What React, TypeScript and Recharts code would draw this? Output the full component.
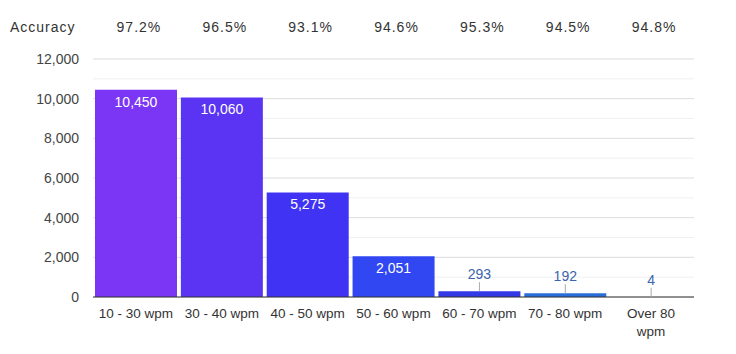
import { BarChart, Bar, XAxis, YAxis, CartesianGrid, Cell, LabelList } from "recharts";

const speeds = ["10 - 30 wpm", "30 - 40 wpm", "40 - 50 wpm", "50 - 60 wpm", "60 - 70 wpm", "70 - 80 wpm", "Over 80 wpm"];
const counts = [10450, 10060, 5275, 2051, 293, 192, 4];
const accuracy = [97.2, 96.5, 93.1, 94.6, 95.3, 94.5, 94.8];
const barColors = ["#7a35f5", "#5a33f3", "#4133f3", "#3047f2", "#3439e6", "#2a6fd9", "#2563c9"];
const yTicks = [0, 2000, 4000, 6000, 8000, 10000, 12000];
const minorTicks = [1000, 3000, 5000, 7000, 9000, 11000];

const FONT = "'Liberation Sans', Arial, sans-serif";

const chartData = speeds.map((name, i) => ({ name, count: counts[i], acc: accuracy[i] }));

let ctx: CanvasRenderingContext2D | null = null;
function measure(s: string, size: number) {
  if (!ctx) ctx = document.createElement("canvas").getContext("2d");
  if (!ctx) return s.length * 7;
  ctx.font = `${size}px 'Liberation Sans', Arial, sans-serif`;
  return ctx.measureText(s).width;
}

// greedy word wrap to fit the category band
function wrap(s: string, size: number, max: number) {
  const words = s.split(" ");
  const lines: string[] = [];
  let cur = "";
  for (const w of words) {
    const next = cur ? cur + " " + w : w;
    if (cur && measure(next, size) > max) {
      lines.push(cur);
      cur = w;
    } else cur = next;
  }
  if (cur) lines.push(cur);
  return lines;
}

function BottomTick(props: any) {
  const { x, y, payload } = props;
  const lines = wrap(String(payload.value), 13.5, 78);
  return (
    <text x={x} y={y} textAnchor="middle" fontSize={13.5} fill="#333" fontFamily={FONT}>
      {lines.map((l, i) => (
        <tspan key={i} x={x} dy={i === 0 ? 13 : 18}>{l}</tspan>
      ))}
    </text>
  );
}

function TopTick(props: any) {
  const { x, y, index } = props;
  const acc = accuracy[index];
  return (
    <g>
      {index === 0 && (
        <text x={10} y={y} textAnchor="start" fontSize={14} fill="#333" fontFamily={FONT} letterSpacing={1}>
          Accuracy
        </text>
      )}
      <text x={x + 3} y={y} textAnchor="middle" fontSize={14} fill="#333" fontFamily={FONT} letterSpacing={1}>
        {acc.toFixed(1)}%
      </text>
    </g>
  );
}

function BarValue(props: any) {
  const { x, y, width, height, value } = props;
  const cx = x + width / 2;
  const label = Number(value).toLocaleString("en-US");
  if (height > 22) {
    return (
      <text x={cx} y={y + 17} textAnchor="middle" fontSize={14} fill="#fff" fontFamily={FONT}>
        {label}
      </text>
    );
  }
  const ty = y - 17;
  return (
    <g>
      <line x1={cx} x2={cx} y1={ty + 8} y2={y} stroke="#aaa" strokeWidth={1} />
      <text x={cx} y={ty + 5} textAnchor="middle" fontSize={14} fill="#3a64ad" fontFamily={FONT}>
        {label}
      </text>
    </g>
  );
}

export default function App() {
  return (
    <div style={{ position: "absolute", left: 0, top: 0, width: 736, height: 354, background: "#fff" }}>
      <BarChart width={736} height={354} data={chartData} margin={{ top: 19, right: 42, bottom: 0, left: 0 }}
        barCategoryGap={2}>
        <CartesianGrid vertical={false} horizontalValues={minorTicks} stroke="#f0f0f0" />
        <CartesianGrid vertical={false} horizontalValues={yTicks} stroke="#dcdcdc" />
        <XAxis dataKey="name" xAxisId="top" orientation="top" height={40} axisLine={false} tickLine={false}
          tickMargin={21} tick={<TopTick />} interval={0} />
        <XAxis dataKey="name" height={57} axisLine={{ stroke: "#333" }} tickLine={false} tickMargin={2}
          tick={<BottomTick />} interval={0} />
        <YAxis width={93} domain={[0, 12000]} ticks={yTicks} axisLine={false} tickLine={false} tickMargin={8}
          tickFormatter={(v: number) => v.toLocaleString("en-US")}
          tick={{ fontSize: 14, fill: "#444", fontFamily: FONT }} />
        <Bar dataKey="count" isAnimationActive={false}>
          {chartData.map((d, i) => (
            <Cell key={d.name} fill={barColors[i]} />
          ))}
          <LabelList dataKey="count" content={<BarValue />} />
        </Bar>
      </BarChart>
    </div>
  );
}
